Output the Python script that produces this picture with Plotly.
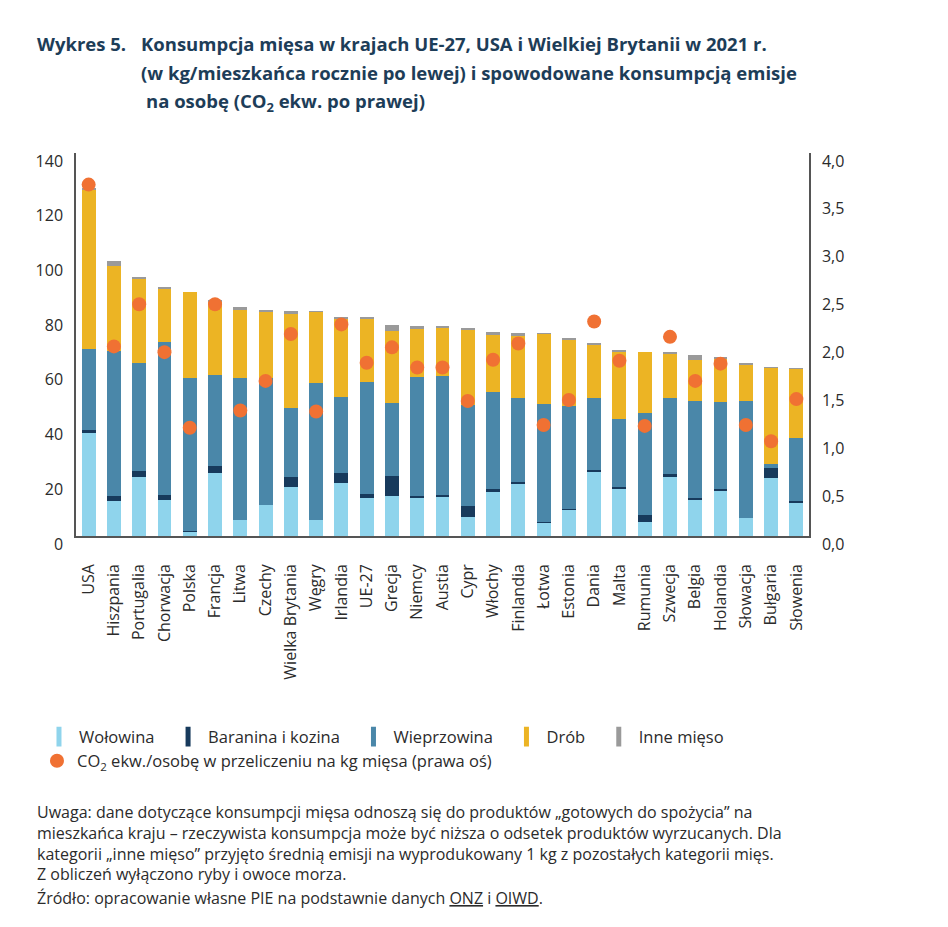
import plotly.graph_objects as go

countries = ["USA", "Hiszpania", "Portugalia", "Chorwacja", "Polska", "Francja", "Litwa", "Czechy",
             "Wielka Brytania", "Węgry", "Irlandia", "UE-27", "Grecja", "Niemcy", "Austia", "Cypr",
             "Włochy", "Finlandia", "Łotwa", "Estonia", "Dania", "Malta", "Rumunia", "Szwecja",
             "Belgia", "Holandia", "Słowacja", "Bułgaria", "Słowenia"]

wolowina = [38.0, 12.7, 21.6, 13.3, 1.8, 23.1, 5.7, 11.2, 17.9, 5.7, 19.4, 14.0, 14.5, 14.0, 14.3,
            7.0, 16.1, 19.2, 4.9, 9.8, 23.7, 17.3, 5.1, 21.7, 13.3, 16.7, 6.6, 21.2, 12.3]
baranina = [0.6, 1.8, 2.2, 1.6, 0.1, 2.4, 0.0, 0.0, 3.7, 0.0, 3.5, 1.3, 7.5, 0.6, 0.6,
            4.1, 0.9, 0.4, 0.4, 0.2, 0.6, 0.6, 2.7, 1.0, 0.7, 0.6, 0.0, 3.7, 0.5]
wieprzowina = [29.6, 53.2, 39.3, 55.9, 55.9, 33.3, 52.1, 46.4, 25.2, 50.1, 28.0, 40.9, 26.6, 43.4, 43.5,
               36.7, 35.7, 30.9, 42.9, 37.6, 26.3, 24.9, 37.0, 27.8, 35.5, 31.7, 42.8, 1.6, 22.9]
drob = [58.3, 31.1, 30.8, 19.4, 31.5, 26.8, 25.1, 24.3, 34.5, 26.1, 28.3, 23.0, 26.4, 18.0, 17.8,
        27.7, 20.6, 22.7, 25.7, 24.3, 19.4, 24.5, 22.4, 16.3, 14.8, 15.9, 13.2, 35.0, 25.4]
inne = [0.5, 1.6, 0.9, 0.8, 0.0, 0.5, 0.7, 0.5, 0.9, 0.3, 0.9, 0.9, 2.0, 0.7, 0.4,
        0.4, 1.1, 0.9, 0.3, 0.3, 0.6, 0.5, 0.0, 0.5, 1.8, 0.3, 0.8, 0.2, 0.2]
co2 = [3.67, 1.98, 2.42, 1.92, 1.13, 2.42, 1.31, 1.62, 2.11, 1.30, 2.21, 1.81, 1.97, 1.76, 1.76,
       1.41, 1.84, 2.01, 1.16, 1.42, 2.24, 1.83, 1.15, 2.08, 1.62, 1.80, 1.16, 0.99, 1.43]

left_ticks = [0, 20, 40, 60, 80, 100, 120, 140]
right_ticks = [0.0, 0.5, 1.0, 1.5, 2.0, 2.5, 3.0, 3.5, 4.0]
right_ticktext = ["0,0", "0,5", "1,0", "1,5", "2,0", "2,5", "3,0", "3,5", "4,0"]

series = [
    ("Wołowina", wolowina, "#8fd4ec"),
    ("Baranina i kozina", baranina, "#173a5c"),
    ("Wieprzowina", wieprzowina, "#4a87a9"),
    ("Drób", drob, "#ecb424"),
    ("Inne mięso", inne, "#9a9a9a"),
]

FONT = "Open Sans"
TEXT = "#2b2b2b"
TITLE_COLOR = "#1d3d58"
NB = "\u00a0\u00a0"

fig = go.Figure()
for i, (name, vals, col) in enumerate(series):
    fig.add_trace(go.Bar(x=countries, y=vals, name=name, marker=dict(color=col, line=dict(width=0)),
                         width=0.55, showlegend=False, legendgroup=name))
# legend entries with narrow vertical-bar symbols (as in the original)
for i, (name, vals, col) in enumerate(series):
    label = name + (NB if i < len(series) - 1 else "")
    fig.add_trace(go.Scatter(x=[None], y=[None], mode="markers", name=label, legendgroup=name,
                             marker=dict(symbol="line-ns", size=14, line=dict(width=5, color=col)),
                             legend="legend", hoverinfo="skip"))

fig.add_trace(go.Scatter(x=countries, y=co2, mode="markers", yaxis="y2",
                         name="CO<sub>2</sub> ekw./osobę w przeliczeniu na kg mięsa (prawa oś)",
                         marker=dict(color="#f07133", size=14, line=dict(width=0)),
                         legend="legend2"))

# page body has an 8px margin; screen coordinates of the plot area
OFF = 8
L, R, T, B = 76, 808.7, 153, 535.7
W, H = 948 - OFF, 927 - OFF


def px(x):
    return (x - L) / (R - L)


def py(y):
    return (B - y) / (B - T)


fig.update_layout(
    width=W, height=H,
    margin=dict(l=L - OFF, r=W + OFF - R, t=T - OFF, b=H + OFF - B),
    paper_bgcolor="white", plot_bgcolor="white",
    barmode="stack",
    font=dict(family=FONT, color=TEXT, size=15),
    showlegend=True,
    xaxis=dict(range=[-0.5, 28.5], tickangle=-90, showline=True, linecolor="#555", linewidth=1.5,
               ticks="", showgrid=False, tickfont=dict(size=16, color=TEXT, family=FONT),
               ticklabelstandoff=20),
    yaxis=dict(range=[0, 140], tickvals=left_ticks, showline=True, linecolor="#555", linewidth=1.5,
               ticks="", showgrid=False, zeroline=False, tickfont=dict(size=16, color=TEXT, family=FONT),
               ticklabelshift=8, ticklabelstandoff=8),
    yaxis2=dict(range=[0, 4], tickvals=right_ticks, ticktext=right_ticktext, overlaying="y", side="right",
                showline=True, linecolor="#555", linewidth=1.5, ticks="", showgrid=False, zeroline=False,
                tickfont=dict(size=16, color=TEXT, family=FONT), ticklabelshift=8, ticklabelstandoff=8),
    legend=dict(orientation="h", x=px(39), y=py(719), xanchor="left", yanchor="top",
                font=dict(size=16.5, color=TEXT, family=FONT), itemwidth=30, traceorder="normal",
                bgcolor="rgba(0,0,0,0)"),
    legend2=dict(orientation="h", x=px(37), y=py(743), xanchor="left", yanchor="top",
                 font=dict(size=16.5, color=TEXT, family=FONT), bgcolor="rgba(0,0,0,0)"),
)

anns = []
title_font = dict(family=FONT, size=18.5, color=TITLE_COLOR)
anns.append(dict(text="<b>Wykres 5.</b>", x=px(35), y=py(44), xanchor="left", yanchor="middle", font=title_font))
anns.append(dict(text="<b>Konsumpcja mięsa w krajach UE-27, USA i Wielkiej Brytanii w 2021 r.</b>",
                 x=px(139), y=py(44), xanchor="left", yanchor="middle", font=title_font))
anns.append(dict(text="<b>(w kg/mieszkańca rocznie po lewej) i spowodowane konsumpcją emisje</b>",
                 x=px(139), y=py(73), xanchor="left", yanchor="middle", font=title_font))
anns.append(dict(text="<b>na osobę (CO<sub>2</sub> ekw. po prawej)</b>",
                 x=px(144), y=py(102), xanchor="left", yanchor="middle", font=title_font))

note_font = dict(family=FONT, size=16, color=TEXT)
note_text = "<br>".join([
    "Uwaga: dane dotyczące konsumpcji mięsa odnoszą się do produktów „gotowych do spożycia” na",
    "mieszkańca kraju – rzeczywista konsumpcja może być niższa o odsetek produktów wyrzucanych. Dla",
    "kategorii „inne mięso” przyjęto średnią emisji na wyprodukowany 1 kg z pozostałych kategorii mięs.",
    "Z obliczeń wyłączono ryby i owoce morza.",
])
anns.append(dict(text=note_text, x=px(35), y=py(842.5), xanchor="left", yanchor="middle", align="left",
                 font=note_font))
anns.append(dict(text="Źródło: opracowanie własne PIE na podstawnie danych <u>ONZ</u> i <u>OIWD</u>.",
                 x=px(35), y=py(897), xanchor="left", yanchor="middle", align="left", font=note_font))

for a in anns:
    a.update(xref="paper", yref="paper", showarrow=False)
fig.update_layout(annotations=anns)

fig.write_html("out.html")
